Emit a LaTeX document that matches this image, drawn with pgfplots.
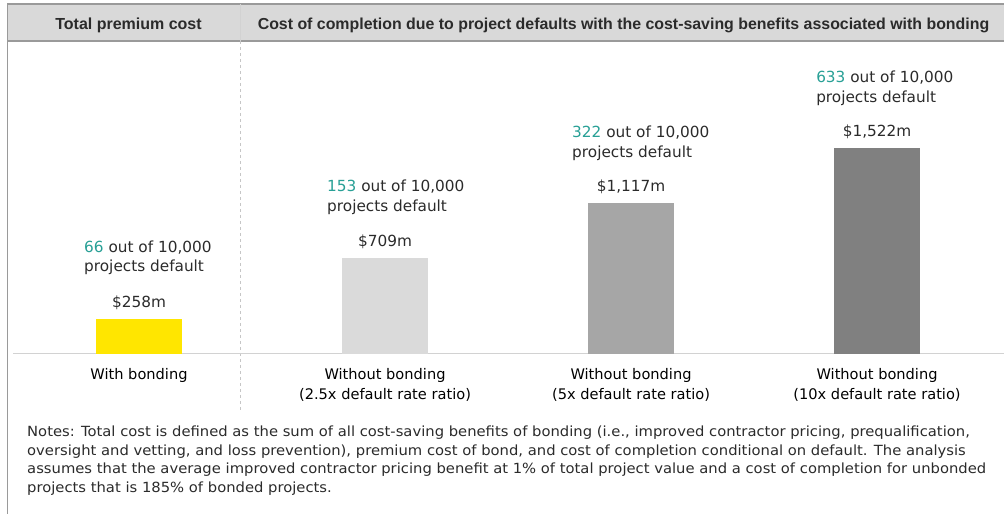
\documentclass[border=0pt]{standalone}
\usepackage{pgfplots}
\pgfplotsset{compat=1.18}
\usepackage{fontspec}
\setmainfont{DejaVu Sans}
\newfontfamily\hdr{Liberation Sans}
\newfontfamily\notesfont[FakeStretch=1.055]{DejaVu Sans}
\definecolor{txt}{HTML}{2B2B2B}
\definecolor{teal}{RGB}{40,160,150}
\definecolor{hdrgray}{HTML}{D9D9D9}
\definecolor{brd}{HTML}{9A9A9A}
\definecolor{ey}{HTML}{FFE600}
\definecolor{g1}{HTML}{DADADA}
\definecolor{g2}{HTML}{A6A6A6}
\definecolor{g3}{HTML}{808080}
\begin{document}
\begin{tikzpicture}
\begin{scope}[x=1pt,y=1pt]
\useasboundingbox (0,0) rectangle (1004,514);
\fill[white] (0,0) rectangle (1004,514);
\fill[hdrgray] (7,473) rectangle (1004,510);
\draw[brd,line width=1.5pt] (7,510) -- (1004,510);
\draw[brd,line width=1.5pt] (7,473) -- (1004,473);
\draw[brd,line width=1pt] (7,510) -- (7,0);
\draw[gray!35,line width=0.8pt] (240,510) -- (240,473);
\draw[gray!45,dashed,line width=0.8pt] (240,473) -- (240,104);
\draw[gray!35,line width=1pt] (13,160) -- (1004,160);
\node[font=\hdr\bfseries\fontsize{16}{18}\selectfont,text=txt] at (128.5,489) {Total premium cost};
\node[font=\hdr\bfseries\fontsize{15.9}{18}\selectfont,text=txt] at (623.5,489) {Cost of completion due to project defaults with the cost-saving benefits associated with bonding};
\begin{scope}[every node/.style={anchor=base west,inner sep=0pt,text=txt,font=\notesfont\fontsize{14}{17}\selectfont}]
\node at (27,77) {Notes: Total cost is defined as the sum of all cost-saving benefits of bonding (i.e., improved contractor pricing, prequalification,};
\node at (27,58.5) {oversight and vetting, and loss prevention), premium cost of bond, and cost of completion conditional on default. The analysis};
\node at (27,40) {assumes that the average improved contractor pricing benefit at 1\% of total project value and a cost of completion for unbonded};
\node at (27,21.5) {projects that is 185\% of bonded projects.};
\end{scope}
\end{scope}
\begin{axis}[at={(0,0)},anchor=south west,scale only axis,width=1004pt,height=514pt,
  xmin=-0.565,xmax=3.516,ymin=-1182,ymax=2615,hide axis,clip=false,
  ybar,bar width=86pt,bar shift=0pt,
  /pgf/number format/assume math mode=true,
  /pgf/number format/1000 sep={,},
  nodes near coords={\$\pgfmathprintnumber{\pgfplotspointmeta}m},
  every node near coord/.append style={font=\fontsize{15.3}{18}\selectfont,text=txt,anchor=base,yshift=11.5pt,inner sep=0pt},
  ]
\addplot[draw=none,fill=ey] coordinates {(0,258)};
\addplot[draw=none,fill=g1] coordinates {(1,709)};
\addplot[draw=none,fill=g2] coordinates {(2,1117)};
\addplot[draw=none,fill=g3] coordinates {(3,1522)};
\begin{scope}[every node/.style={anchor=base west,inner sep=0pt,text=txt,font=\fontsize{15.3}{21}\selectfont,align=left}]
\node at (axis cs:0,258) [xshift=-55pt,yshift=67pt] {\textcolor{teal}{66} out of 10,000};
\node at (axis cs:0,258) [xshift=-55pt,yshift=48pt] {projects default};
\node at (axis cs:1,709) [xshift=-58pt,yshift=67pt] {\textcolor{teal}{153} out of 10,000};
\node at (axis cs:1,709) [xshift=-58pt,yshift=47pt] {projects default};
\node at (axis cs:2,1117) [xshift=-59pt,yshift=65pt] {\textcolor{teal}{322} out of 10,000};
\node at (axis cs:2,1117) [xshift=-59pt,yshift=45pt] {projects default};
\node at (axis cs:3,1522) [xshift=-61pt,yshift=65pt] {\textcolor{teal}{633} out of 10,000};
\node at (axis cs:3,1522) [xshift=-61pt,yshift=45pt] {projects default};
\end{scope}
\begin{scope}[every node/.style={anchor=base,inner sep=0pt,text=black,font=\fontsize{14.6}{17}\selectfont}]
\node at (axis cs:0,0) [yshift=-26pt] {With bonding};
\node at (axis cs:1,0) [yshift=-26pt] {Without bonding};
\node at (axis cs:1,0) [yshift=-45.5pt] {(2.5x default rate ratio)};
\node at (axis cs:2,0) [yshift=-26pt] {Without bonding};
\node at (axis cs:2,0) [yshift=-45.5pt] {(5x default rate ratio)};
\node at (axis cs:3,0) [yshift=-26pt] {Without bonding};
\node at (axis cs:3,0) [yshift=-45.5pt] {(10x default rate ratio)};
\end{scope}
\end{axis}
\end{tikzpicture}
\end{document}
